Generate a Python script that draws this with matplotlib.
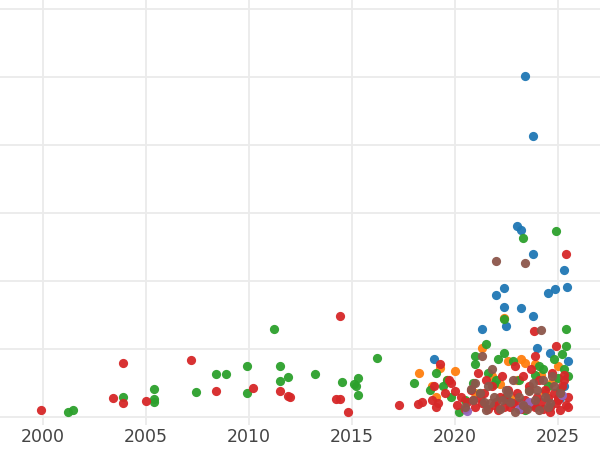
import matplotlib
matplotlib.use("Agg")
import matplotlib.pyplot as plt

# values (year, value)
blue_x = [2023.4, 2023.8, 2023.0, 2023.2, 2023.8, 2025.3, 2024.85, 2025.45, 2024.5, 2022.0, 2022.4,
          2022.4, 2023.2, 2023.8, 2022.5, 2021.3, 2024.0, 2019.0, 2025.5, 2024.6, 2025.1, 2025.3]
blue_y = [5.01, 4.13, 2.81, 2.75, 2.40, 2.16, 1.88, 1.91, 1.82, 1.79, 1.90,
          1.62, 1.60, 1.49, 1.34, 1.29, 1.01, 0.85, 0.82, 0.94, 0.28, 0.45]

orange_x = [2018.25, 2022.4, 2021.3, 2023.4, 2023.9, 2019.3, 2018.9, 2019.6, 2020.0, 2021.0, 2021.8,
            2022.2, 2022.6, 2023.0, 2023.6, 2024.2, 2024.7, 2025.0, 2019.1, 2022.9, 2023.2, 2024.4]
orange_y = [0.65, 1.46, 1.02, 0.80, 0.78, 0.72, 0.45, 0.55, 0.68, 0.35, 0.60,
            0.48, 0.82, 0.55, 0.40, 0.62, 0.52, 0.75, 0.30, 0.28, 0.85, 0.35]

green_x = [2001.2, 2001.45, 2003.9, 2005.4, 2005.4, 2005.4, 2007.4, 2008.4, 2008.9, 2009.9, 2009.9,
           2011.2, 2011.5, 2011.5, 2011.9, 2013.2, 2014.5, 2015.1, 2015.3, 2015.3, 2015.2, 2016.2,
           2018.0, 2024.9, 2023.3, 2022.4, 2025.4, 2021.5, 2025.4, 2021.0, 2022.4, 2021.0, 2025.3,
           2020.9, 2021.6, 2022.0, 2022.8, 2023.6, 2024.1, 2024.8, 2025.2, 2019.4, 2018.8, 2019.1,
           2019.8, 2020.5, 2021.2, 2021.9, 2022.5, 2023.1, 2023.9, 2024.5, 2025.0, 2025.5, 2020.2,
           2019.6, 2022.1, 2023.4, 2024.3, 2025.1]
green_y = [0.07, 0.10, 0.30, 0.41, 0.26, 0.22, 0.37, 0.63, 0.63, 0.75, 0.35,
           1.29, 0.75, 0.53, 0.59, 0.64, 0.52, 0.49, 0.33, 0.58, 0.45, 0.87,
           0.50, 2.74, 2.63, 1.44, 1.29, 1.07, 1.04, 0.90, 0.94, 0.78, 0.70,
           0.50, 0.65, 0.55, 0.82, 0.40, 0.75, 0.85, 0.92, 0.45, 0.40, 0.65,
           0.30, 0.25, 0.35, 0.48, 0.30, 0.55, 0.62, 0.45, 0.58, 0.60, 0.08,
           0.55, 0.85, 0.10, 0.70, 0.40]

red_x = [1999.9, 2003.9, 2003.4, 2003.9, 2005.0, 2007.2, 2008.4, 2010.2, 2011.5, 2011.9, 2012.0,
         2014.2, 2014.4, 2014.4, 2014.8, 2017.3, 2018.2, 2018.4, 2025.4, 2023.85, 2024.9, 2023.9,
         2019.3, 2019.8, 2025.3, 2018.9, 2019.0, 2019.2, 2019.5, 2019.7, 2020.1, 2020.3, 2020.6,
         2020.8, 2021.0, 2021.2, 2021.4, 2021.6, 2021.8, 2022.0, 2022.2, 2022.4, 2022.6, 2022.8,
         2023.0, 2023.2, 2023.4, 2023.6, 2023.8, 2024.0, 2024.2, 2024.4, 2024.6, 2024.8, 2025.0,
         2025.2, 2025.4, 2025.5, 2020.5, 2021.5, 2022.3, 2022.9, 2023.5, 2024.1, 2024.7, 2025.1,
         2021.1, 2022.7, 2023.3, 2024.5, 2025.3, 2019.1, 2020.0, 2022.1, 2023.7, 2024.9,
         2021.9, 2022.5, 2023.1, 2023.9, 2024.3, 2025.0, 2025.5, 2020.9, 2021.3, 2024.6]
red_y = [0.10, 0.79, 0.28, 0.20, 0.24, 0.84, 0.38, 0.43, 0.38, 0.31, 0.29,
         0.26, 0.26, 1.49, 0.08, 0.18, 0.19, 0.22, 2.40, 1.26, 1.04, 0.90,
         0.78, 0.50, 0.55, 0.25, 0.45, 0.20, 0.35, 0.55, 0.18, 0.30, 0.22,
         0.40, 0.15, 0.28, 0.35, 0.12, 0.45, 0.22, 0.30, 0.15, 0.40, 0.20,
         0.35, 0.12, 0.25, 0.45, 0.18, 0.30, 0.22, 0.40, 0.15, 0.35, 0.25,
         0.45, 0.18, 0.30, 0.12, 0.55, 0.60, 0.75, 0.20, 0.55, 0.65, 0.10,
         0.65, 0.15, 0.60, 0.28, 0.62, 0.15, 0.38, 0.10, 0.70, 0.20,
         0.18, 0.25, 0.20, 0.15, 0.12, 0.28, 0.15, 0.25, 0.20, 0.08]

purple_x = [2020.6, 2023.3, 2023.6, 2025.2, 2023.1]
purple_y = [0.09, 0.18, 0.22, 0.32, 0.12]

brown_x = [2022.0, 2023.4, 2024.2, 2021.3, 2020.5, 2020.9, 2021.2, 2021.5, 2021.7, 2021.9, 2022.2,
           2022.5, 2022.7, 2022.9, 2023.1, 2023.3, 2023.6, 2023.9, 2024.1, 2024.4, 2024.6, 2024.8,
           2025.1, 2021.0, 2021.6, 2022.3, 2022.8, 2023.5, 2024.0, 2024.7, 2021.8, 2022.6, 2023.8,
           2024.5, 2021.4, 2024.3, 2020.8]
brown_y = [2.29, 2.26, 1.28, 0.90, 0.15, 0.25, 0.35, 0.10, 0.20, 0.30, 0.12,
           0.40, 0.22, 0.08, 0.30, 0.18, 0.38, 0.25, 0.10, 0.30, 0.20, 0.45,
           0.35, 0.50, 0.45, 0.25, 0.55, 0.12, 0.40, 0.60, 0.70, 0.35, 0.50,
           0.15, 0.22, 0.55, 0.42]

series = [(blue_x, blue_y, "#1f77b4"), (orange_x, orange_y, "#ff7f0e"),
          (green_x, green_y, "#2ca02c"), (red_x, red_y, "#d62728"),
          (purple_x, purple_y, "#9467bd"), (brown_x, brown_y, "#8c564b")]

fig = plt.figure(figsize=(6, 4.5), dpi=100)
ax = fig.add_axes([0, 0.055, 1, 0.945])
for xs, ys, c in series:
    ax.scatter(xs, ys, s=44, color=c, alpha=0.95, linewidths=0, zorder=3)

ax.set_xlim(1997.9, 2027.05)
ax.set_ylim(-0.12, 6.13)
ax.set_xticks([2000, 2005, 2010, 2015, 2020, 2025])
ax.set_yticks(range(0, 7))
ax.set_yticklabels([])
ax.grid(True, color="#ebebeb", linewidth=1.3, zorder=0)
ax.set_axisbelow(True)
for s in ax.spines.values():
    s.set_visible(False)
ax.tick_params(axis="both", length=0, labelsize=12.5, labelcolor="#444444", pad=2)
fig.savefig("out.png", dpi=100)
